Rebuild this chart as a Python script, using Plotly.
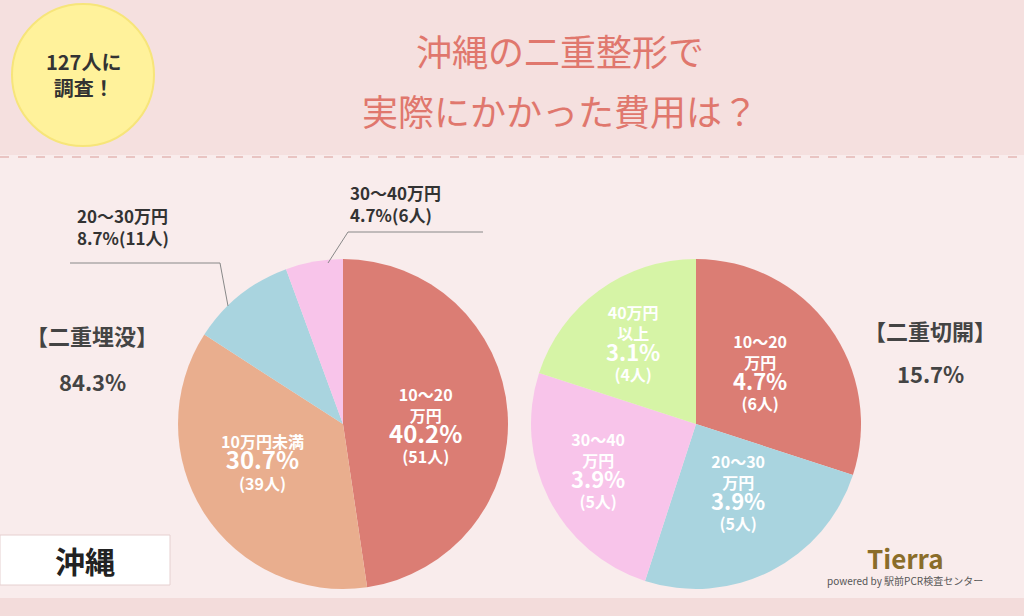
import plotly.graph_objects as go

left_labels = ["10〜20<br>万円", "10万円未満", "20〜30万円", "30〜40万円"]
left_pct = [40.2, 30.7, 8.7, 4.7]
left_n = [51, 39, 11, 6]
left_colors = ["#db7d74", "#e9ae8e", "#a9d4df", "#f8c4ea"]

right_labels = ["10〜20<br>万円", "20〜30<br>万円", "30〜40<br>万円", "40万円<br>以上"]
right_pct = [4.7, 3.9, 3.9, 3.1]
right_n = [6, 5, 5, 4]
right_colors = ["#db7d74", "#a9d4df", "#f8c4ea", "#d6f4a6"]

F = "Noto Sans CJK JP"
W, H = 1024, 616
def px(x): return x / W
def py(y): return 1 - y / H

fig = go.Figure()
fig.add_trace(go.Pie(values=left_n, marker=dict(colors=left_colors), sort=False, direction="clockwise",
                     rotation=0, textinfo="none", hoverinfo="skip", showlegend=False,
                     domain=dict(x=[px(178), px(508)], y=[py(589), py(259)])))
fig.add_trace(go.Pie(values=right_n, marker=dict(colors=right_colors), sort=False, direction="clockwise",
                     rotation=0, textinfo="none", hoverinfo="skip", showlegend=False,
                     domain=dict(x=[px(531), px(861)], y=[py(589), py(259)])))

shapes = [
    dict(type="rect", xref="paper", yref="paper", x0=0, x1=1, y0=py(155), y1=1, fillcolor="#f5e0df", line_width=0, layer="below"),
    dict(type="line", xref="paper", yref="paper", x0=0, x1=1, y0=py(157), y1=py(157), line=dict(color="#e9c4c2", width=2, dash="dash")),
    dict(type="rect", xref="paper", yref="paper", x0=0, x1=1, y0=0, y1=py(598), fillcolor="#f3dcdb", line_width=0, layer="below"),
    dict(type="circle", xref="paper", yref="paper", x0=px(12), x1=px(154), y0=py(146), y1=py(4), fillcolor="#fff29b", line=dict(color="#f7e57a", width=2)),
    dict(type="rect", xref="paper", yref="paper", x0=0, x1=px(170), y0=py(585), y1=py(535), fillcolor="white", line=dict(color="#e6d0d0", width=1)),
    dict(type="path", xref="paper", yref="paper", path=f"M {px(70)} {py(263)} L {px(220)} {py(263)} L {px(228)} {py(306)}", line=dict(color="#888", width=1)),
    dict(type="path", xref="paper", yref="paper", path=f"M {px(483)} {py(232)} L {px(348)} {py(232)} L {px(328)} {py(263)}", line=dict(color="#888", width=1)),
]

def ann(x, y, text, size=16, color="#333", bold=False, align="center", xanchor="center"):
    return dict(x=px(x), y=py(y), xref="paper", yref="paper", text=f"<b>{text}</b>" if bold else text,
                showarrow=False, font=dict(family=F, size=size, color=color), align=align,
                xanchor=xanchor, yanchor="middle")

def pielab(name, pct, n, big=24):
    return f"<b>{name}<br><span style='font-size:{big}px'>{pct}%</span><br>({n}人)</b>"

anns = [
    ann(560, 50, "沖縄の二重整形で", 36, "#e0776d"),
    ann(560, 110, "実際にかかった費用は？", 36, "#e0776d"),
    ann(83, 75, "127人に<br>調査！", 20, "#333", True),
    ann(85, 560, "沖縄", 30, "#222", True),
    ann(92, 335, "【二重埋没】", 22, "#444", True),
    ann(92, 381, "84.3%", 22, "#444", True),
    ann(930, 330, "【二重切開】", 22, "#444", True),
    ann(930, 373, "15.7%", 22, "#444", True),
    ann(75, 227, f"{left_labels[2]}<br>{left_pct[2]}%({left_n[2]}人)", 17, "#333", True, "left", "left"),
    ann(348, 203, f"{left_labels[3]}<br>{left_pct[3]}%({left_n[3]}人)", 17, "#333", True, "left", "left"),
    ann(425, 425, pielab(left_labels[0], left_pct[0], left_n[0]), 16, "white"),
    ann(262, 462, pielab(left_labels[1], left_pct[1], left_n[1]), 16, "white"),
    ann(760, 372, pielab(right_labels[0], right_pct[0], right_n[0], 22), 16, "white"),
    ann(738, 492, pielab(right_labels[1], right_pct[1], right_n[1], 22), 16, "white"),
    ann(598, 470, pielab(right_labels[2], right_pct[2], right_n[2], 22), 16, "white"),
    ann(633, 343, pielab(right_labels[3], right_pct[3], right_n[3], 22), 16, "white"),
    ann(905, 557, "Tierra", 26, "#8a6d2a", True),
    ann(905, 580, "powered by 駅前PCR検査センター", 10, "#555"),
]

fig.update_layout(width=W, height=H, margin=dict(l=0, r=0, t=0, b=0),
                  paper_bgcolor="#f9ecec", plot_bgcolor="#f9ecec",
                  shapes=shapes, annotations=anns)
fig.write_html("out.html", config={"displayModeBar": False})
with open("out.html", encoding="utf-8") as f:
    html = f.read()
html = html.replace("<body>", "<body style=\"margin:0\">", 1)
with open("out.html", "w", encoding="utf-8") as f:
    f.write(html)
